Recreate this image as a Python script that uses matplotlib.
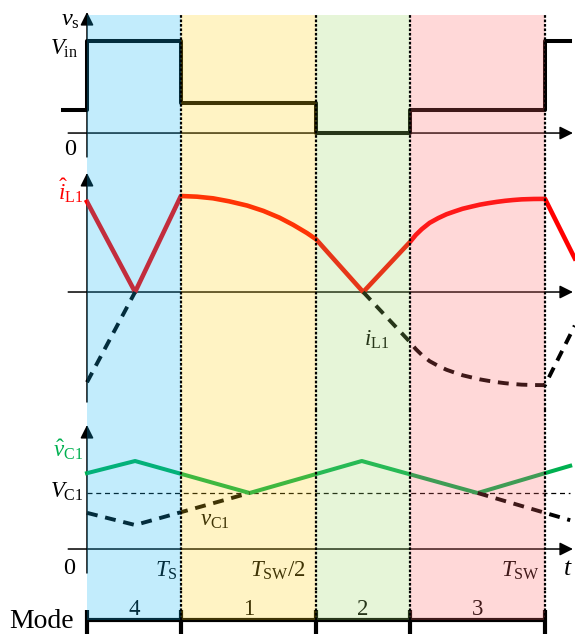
import numpy as np
import matplotlib.pyplot as plt

plt.rcParams['font.family'] = 'Liberation Serif'
plt.rcParams['mathtext.fontset'] = 'custom'
plt.rcParams['mathtext.rm'] = 'Liberation Serif'
plt.rcParams['mathtext.it'] = 'Liberation Serif:italic'

# time axis in units of T_SW
mode_edges = [0.0, 0.205, 0.5, 0.705, 1.0]
mode_names = ['4', '1', '2', '3']
mode_colors = ['#0cb4f4', '#ffd014', '#9cd864', '#ff6464']

# switch-node voltage, in units of Vin (step values)
vs_t = [-0.052, 0.0, 0.205, 0.5, 0.705, 1.0, 1.055]
vs_v = [0.25, 1.0, 0.326, 0.0, 0.25, 1.0, 1.0]

# inductor current, normalised to its peak
il_t = [0.0, 0.105, 0.205, 0.24, 0.275, 0.31, 0.35, 0.385, 0.42, 0.45, 0.48, 0.5,
        0.603, 0.705, 0.718, 0.731, 0.748, 0.767, 0.785, 0.803, 0.82, 0.84,
        0.858, 0.876, 0.895, 0.913, 0.93, 0.949, 0.975, 1.0, 1.065]
il_v = [-0.94, 0.0, 1.0, 0.993, 0.976, 0.945, 0.90, 0.845, 0.775, 0.70, 0.615, 0.55,
        0.0, -0.52, -0.595, -0.655, -0.72, -0.77, -0.81, -0.84, -0.867, -0.89,
        -0.91, -0.925, -0.939, -0.95, -0.958, -0.965, -0.969, -0.97, -0.35]

# capacitor voltage ripple around V_C1
VC1 = 1.75
vc_t = [0.0, 0.105, 0.355, 0.6, 0.853, 1.0, 1.055]
vc_dev = [-0.62, -1.0, 0.0, 1.0, 0.0, -0.62, -0.85]

GREEN = '#00b050'
RED = '#ff0000'
FS = 16.5

fig = plt.figure(figsize=(5.75, 6.4), dpi=100)


def panel(top, bottom, ylim):
    # top/bottom given in figure pixels
    ax = fig.add_axes([0, 1 - bottom / 640, 1, (bottom - top) / 640])
    ax.set_xlim(-87 / 458, 488 / 458)
    ax.set_ylim(*ylim)
    ax.axis('off')
    return ax


def arrows(ax, ytop, ybot):
    kw = dict(arrowstyle='-|>', color='k', lw=1.1, mutation_scale=20,
              shrinkA=0, shrinkB=0)
    ax.annotate('', xy=(1.061, 0), xytext=(-0.041, 0), arrowprops=kw, zorder=2)
    ax.annotate('', xy=(0, ytop), xytext=(0, ybot), arrowprops=kw, zorder=2)


def shade(ax, ymin=0.0, ymax=1.0):
    for a, b, c in zip(mode_edges[:-1], mode_edges[1:], mode_colors):
        ax.axvspan(a, b, ymin, ymax, color=c, alpha=0.25, lw=0, zorder=5)
    for e in mode_edges[1:]:
        ax.axvline(e, ymin, ymax, color='k', lw=1.6, ls=(0, (1.2, 0.8)), zorder=6)


# --- v_s ---
ax1 = panel(10, 160, (-0.293, 1.337))
arrows(ax1, 1.315, -0.26)
ax1.plot(vs_t, vs_v, drawstyle='steps-post', color='k', lw=2.9, zorder=3)
ax1.text(-0.016, 1.22, r'$v_{\mathrm{s}}$', ha='right', va='center', fontsize=FS + 1)
ax1.text(-0.02, 0.92, r'$V_{\mathrm{in}}$', ha='right', va='center', fontsize=FS)
ax1.text(-0.036, -0.18, '0', ha='center', va='center', fontsize=FS + 1)
shade(ax1, 0, 0.967)

# --- i_L1 ---
ax2 = panel(160, 410, (-1.229, 1.375))
arrows(ax2, 1.24, -1.146)
il = np.array(il_v)
ax2.plot(il_t, np.abs(il), color=RED, lw=3.3, zorder=3)
ax2.plot(il_t, np.where(il <= 0, il, np.nan), color='k', lw=2.8,
         ls=(0, (2.8, 2.0)), zorder=3)
ax2.text(-0.008, 1.06, r'$\hat{i}_{\mathrm{L1}}$', ha='right', va='center',
         fontsize=FS, color=RED)
ax2.text(0.605, -0.5, r'$i_{\mathrm{L1}}$', ha='left', va='center', fontsize=FS)
shade(ax2)

# --- v_C1 ---
ax3 = panel(410, 590, (-1.281, 4.344))
arrows(ax3, 3.875, -0.75)
dv = np.array(vc_dev)
ax3.plot([0, 1.055], [VC1, VC1], color='k', lw=0.9, ls=(0, (4, 3)), zorder=2)
ax3.plot(vc_t, VC1 + np.abs(dv), color=GREEN, lw=2.9, zorder=3)
ax3.plot(vc_t, np.where(dv <= 0, VC1 + dv, np.nan), color='k', lw=2.8,
         ls=(0, (2.8, 2.0)), zorder=3)
ax3.text(-0.008, 3.1, r'$\hat{v}_{\mathrm{C1}}$', ha='right', va='center',
         fontsize=FS, color=GREEN)
ax3.text(-0.008, 1.8, r'$V_{\mathrm{C1}}$', ha='right', va='center', fontsize=FS)
ax3.text(0.247, 0.9, r'$v_{\mathrm{C1}}$', ha='left', va='center', fontsize=FS)
ax3.text(-0.04, -0.62, '0', ha='center', va='center', fontsize=FS + 1)
ax3.text(0.198, -0.68, r'$T_{\mathrm{S}}$', ha='right', va='center', fontsize=FS)
ax3.text(0.417, -0.68, r'$T_{\mathrm{SW}}/2$', ha='center', va='center', fontsize=FS)
ax3.text(0.988, -0.68, r'$T_{\mathrm{SW}}$', ha='right', va='center', fontsize=FS)
ax3.text(1.05, -0.62, r'$t$', ha='center', va='center', fontsize=FS + 2)
shade(ax3)

# --- mode bar ---
ax4 = panel(590, 640, (-1.0, 1.5))
ax4.plot([0, 1], [0, 0], color='k', lw=3, zorder=3, solid_capstyle='butt')
ax4.vlines(mode_edges, -0.7, 0.5, color='k', lw=3, zorder=3)
for a, b, name in zip(mode_edges[:-1], mode_edges[1:], mode_names):
    ax4.text((a + b) / 2, 0.25, name, ha='center', va='baseline', fontsize=FS)
ax4.text(-0.1, -0.05, 'Mode', ha='center', va='center', fontsize=20)
shade(ax4, 0.4, 1.0)

fig.savefig('out.png', dpi=100)
